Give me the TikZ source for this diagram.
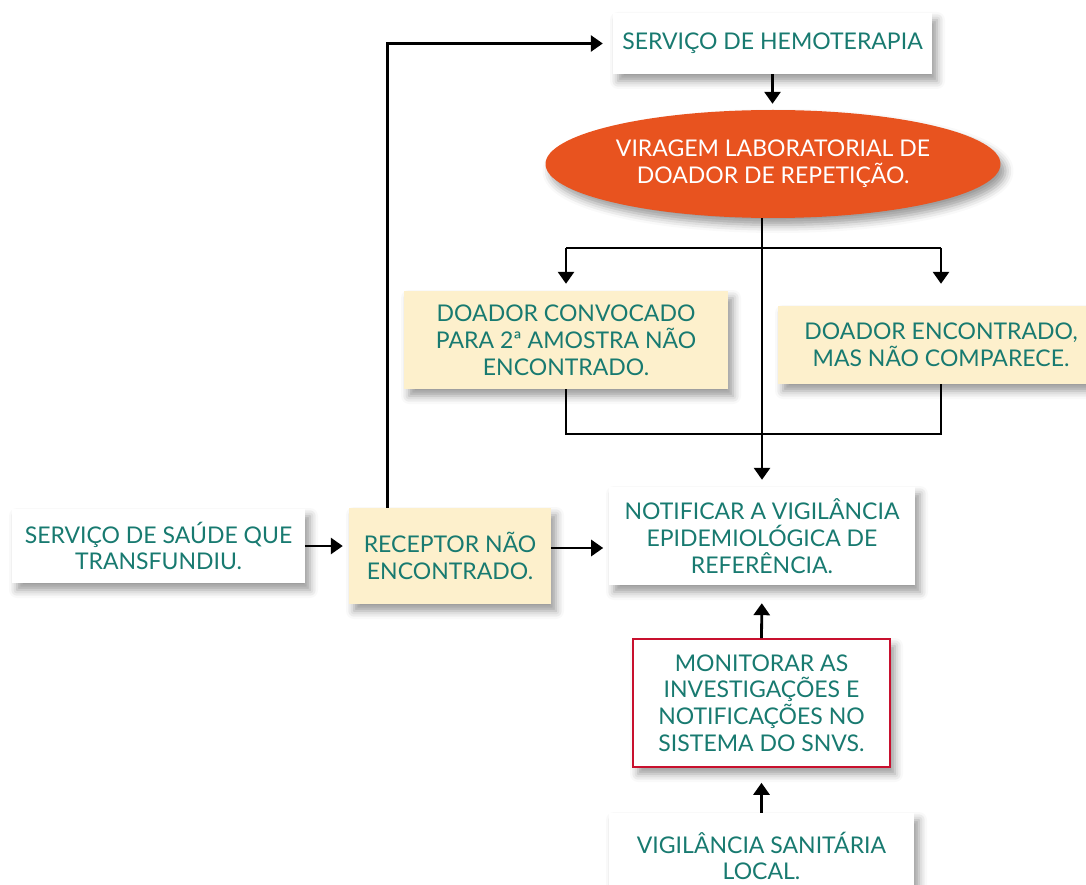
\documentclass[tikz,border=0pt]{standalone}
\usepackage{fontspec}
\setmainfont{Lato}
\usetikzlibrary{shapes.geometric,arrows.meta,shadows.blur}
\definecolor{verde}{RGB}{24,122,112}
\definecolor{laranja}{RGB}{232,83,31}
\definecolor{creme}{RGB}{253,240,204}
\definecolor{vermelho}{RGB}{200,16,46}
\tikzset{
  ombra/.style={blur shadow={shadow xshift=5pt,shadow yshift=-7pt,shadow blur radius=8pt,shadow opacity=40}},
  caixa/.style={fill=white,text=verde,align=center,inner sep=0pt,ombra},
  creme/.style={caixa,fill=creme},
  linha/.style={line width=2.8pt},
  seta/.style={linha,-{Triangle[width=16pt,length=12pt]}},
}
\begin{document}
\begin{tikzpicture}[x=1pt,y=-1pt,font=\fontsize{23}{26.8}\selectfont]
        \useasboundingbox (0,0) rectangle (1086,885);
        % Caselle in alto
        \node[caixa,minimum width=319pt,minimum height=61pt] (hemo) at (772.5,43.5) {SERVIÇO DE HEMOTERAPIA};
        \node[ellipse,fill=laranja,text=white,align=center,inner sep=0pt,ombra,minimum width=455pt,minimum height=108pt] (virag) at (773,164) {VIRAGEM LABORATORIAL DE\\DOADOR DE REPETIÇÃO.};
        \node[creme,minimum width=324pt,minimum height=98pt] (doad1) at (566,340) {DOADOR CONVOCADO\\PARA 2ª AMOSTRA NÃO\\ENCONTRADO.};
        \node[creme,minimum width=326pt,minimum height=78pt] (doad2) at (941,345) {DOADOR ENCONTRADO,\\MAS NÃO COMPARECE.};
        
        % Caselle in basso
        \node[caixa,minimum width=306pt,minimum height=98pt] (notif) at (762,536) {NOTIFICAR A VIGILÂNCIA\\EPIDEMIOLÓGICA DE\\REFERÊNCIA.};
        \node[caixa,minimum width=293pt,minimum height=74pt] (saude) at (158.5,546) {SERVIÇO DE SAÚDE QUE\\TRANSFUNDIU.};
        \node[creme,minimum width=202pt,minimum height=96pt] (recep) at (450,556) {RECEPTOR NÃO\\ENCONTRADO.};
        \node[caixa,draw=vermelho,line width=1.6pt,minimum width=257pt,minimum height=128pt] (monit) at (761.5,703) {MONITORAR AS\\INVESTIGAÇÕES E\\NOTIFICAÇÕES NO\\SISTEMA DO SNVS.};
        \node[caixa,minimum width=305pt,minimum height=86pt] (vigil) at (761.5,856) {VIGILÂNCIA SANITÁRIA\\LOCAL.};
        
        % Frecce
        \coordinate (ramo) at (762,248);
        \coordinate (fundo) at (762,434);
        \draw[seta,shorten >=10pt] ([xshift=39pt]recep.north west) |- (hemo.west);
        \draw[seta,shorten >=6pt] (hemo.south) -- (hemo.south |- virag.north);
        \draw[seta,shorten >=7pt] (virag.south -| notif.north) -- (notif.north);
        \draw[linha] (ramo -| doad1.north) -- (ramo -| doad2.north);
        \draw[seta,shorten >=7pt] (ramo -| doad1.north) -- (doad1.north);
        \draw[seta,shorten >=22pt] (ramo -| doad2.north) -- (doad2.north);
        \draw[linha] (doad1.south) |- (fundo -| doad2.south) -- (doad2.south);
        \draw[seta,shorten >=6pt] (saude.east) -- (saude.east -| recep.west);
        \draw[seta,shorten >=6pt] ([yshift=8pt]recep.east) -- ++(58,0);
        \draw[seta,shorten >=18pt] (monit.north) -- (notif.south);
        \draw[seta,shorten >=15pt] (vigil.north) -- (monit.south);
      \end{tikzpicture}
\end{document}
